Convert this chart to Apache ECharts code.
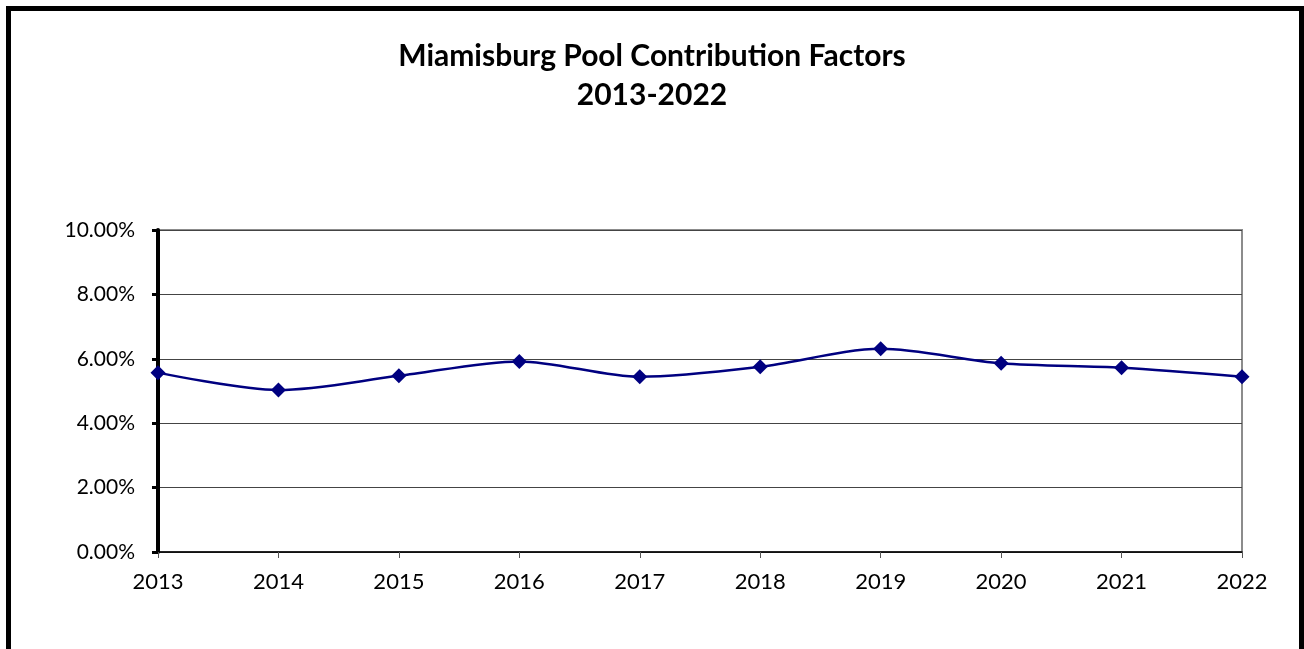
<!DOCTYPE html>
<html>
<head>
<meta charset="utf-8">
<script src="https://cdn.jsdelivr.net/npm/echarts@6/dist/echarts.min.js"></script>
<style>
  html, body { margin: 0; padding: 0; width: 1304px; height: 649px; overflow: hidden; background: #fff; }
  .frame { position: absolute; left: 6px; top: 6px; width: 1288px; height: 700px; border: 5px solid #000; }
  #chart { position: absolute; left: 0; top: 0; width: 1304px; height: 649px; }
</style>
</head>
<body>
<div class="frame"></div>
<div id="chart"></div>
<script>
  // years on the x axis
  var years = ['2013', '2014', '2015', '2016', '2017', '2018', '2019', '2020', '2021', '2022'];
  // contribution factor, percent
  var factors = [5.57, 5.03, 5.47, 5.92, 5.44, 5.75, 6.31, 5.86, 5.72, 5.44];

  var chart = echarts.init(document.getElementById('chart'));
  chart.setOption({
    animation: false,
    title: {
      text: 'Miamisburg Pool Contribution Factors\n2013-2022',
      left: 'center',
      top: 32,
      textStyle: {
        fontFamily: 'Lato',
        fontWeight: 'bold',
        fontSize: 30,
        lineHeight: 39,
        color: '#000'
      }
    },
    grid: {
      left: 158,
      right: 62,
      top: 230,
      bottom: 97,
      show: true,
      borderColor: '#8c8c8c',
      borderWidth: 2
    },
    xAxis: {
      type: 'category',
      data: years,
      boundaryGap: false,
      axisLine: { lineStyle: { color: '#000', width: 1.5 } },
      axisTick: { length: 6, lineStyle: { color: '#555', width: 1 } },
      axisLabel: { color: '#000', fontFamily: 'Lato', fontSize: 22, margin: 19 },
      splitLine: { show: false }
    },
    yAxis: {
      type: 'value',
      min: 0,
      max: 10,
      interval: 2,
      axisLine: { show: true, lineStyle: { color: '#000', width: 4 } },
      axisTick: { show: true, length: 6, lineStyle: { color: '#000', width: 3 } },
      axisLabel: {
        color: '#000',
        fontFamily: 'Lato',
        fontSize: 21,
        margin: 23,
        formatter: function (v) { return v.toFixed(2) + '%'; }
      },
      splitLine: { lineStyle: { color: '#444', width: 1 } }
    },
    series: [
      {
        type: 'line',
        data: factors,
        smooth: 0.3,
        symbol: 'diamond',
        symbolSize: 15,
        itemStyle: { color: '#000080' },
        lineStyle: { color: '#000080', width: 2.5 }
      }
    ]
  });
</script>
</body>
</html>
